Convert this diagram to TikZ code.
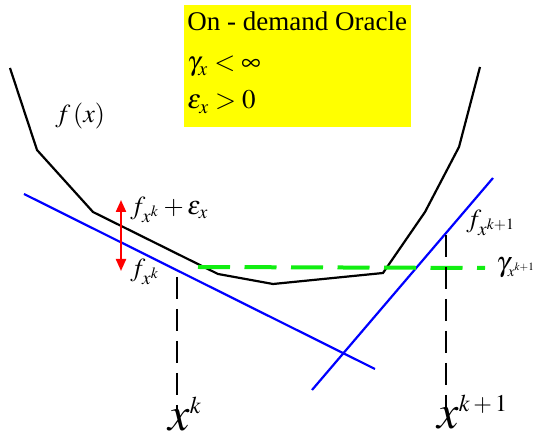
\documentclass[tikz,border=0pt]{standalone}
\usepackage{mathptmx}
\usepackage{fontspec}
\setmainfont{Liberation Serif}
\usetikzlibrary{arrows.meta}
\definecolor{oracleyellow}{HTML}{FFFF00}
\definecolor{cutblue}{HTML}{0000FF}
\definecolor{levelgreen}{HTML}{11EE11}
\definecolor{gapred}{HTML}{FF0000}
\newcommand{\smallsup}[1]{\mbox{\fontsize{12}{14}\selectfont$#1$}}
\newcommand{\tinysub}[1]{\mbox{\fontsize{7.5}{9}\selectfont$#1$}}

\begin{document}
\begin{tikzpicture}[x=0.5pt,y=-0.5pt,>={Triangle[length=6pt,width=5pt]},
  lbl/.style={anchor=base west,inner sep=0pt,font=\fontsize{13}{15}\selectfont},
  big/.style={anchor=base west,inner sep=0pt,font=\fontsize{24}{28}\selectfont}]
  \useasboundingbox (0,0) rectangle (536,437);
  % oracle box
  \fill[oracleyellow] (184,5) rectangle (411,127);
  \node[lbl,font=\fontsize{13.5}{16}\selectfont] (title) at (187,31) {On - demand Oracle};
  \node[lbl,font=\fontsize{13.5}{16}\selectfont] (gamma) at (187,71) {$\gamma_x<\infty$};
  \node[lbl,font=\fontsize{13.5}{16}\selectfont] (eps) at (187,109) {$\varepsilon_x>0$};
  % function and cuts
  \draw[line width=1.1pt] (10,68) -- (37,150) -- (93,212) -- (218,274) -- (273,284)
    -- (383,273) -- (425,212) -- (459,147) -- (480,67);
  \draw[cutblue,line width=1.1pt] (24,194) -- (375,369);
  \draw[cutblue,line width=1.1pt] (312,390) -- (493,178);
  \draw[levelgreen,line width=2pt,dash pattern=on 16pt off 7.25pt] (198,267) -- (485,268);
  \draw[line width=1.1pt,dash pattern=on 11pt off 5pt] (177,277) -- (177,410);
  \draw[line width=1.1pt,dash pattern=on 11pt off 5pt] (446,235) -- (446,407);
  \draw[gapred,line width=1.1pt,<->] (121,200) -- (121,271);
  % labels
  \node[lbl] (fx) at (55,123) {$f\,(x)$};
  \node[lbl] (fup) at (130,215) {$f_{x^k}+\varepsilon_x$};
  \node[lbl] (fk) at (130,277) {$f_{x^k}$};
  \node[lbl] (fk1) at (466,228) {$f_{x^{k+1}}$};
  \node[lbl,font=\fontsize{14}{16}\selectfont] (gk1) at (496,272) {$\gamma_{\tinysub{x^{k+1}}}$};
  \node[big] (xk) at (168,431) {$x^{\smallsup{k}}$};
  \node[big] (xk1) at (437,429) {$x^{\smallsup{k+1}}$};
\end{tikzpicture}
\end{document}
